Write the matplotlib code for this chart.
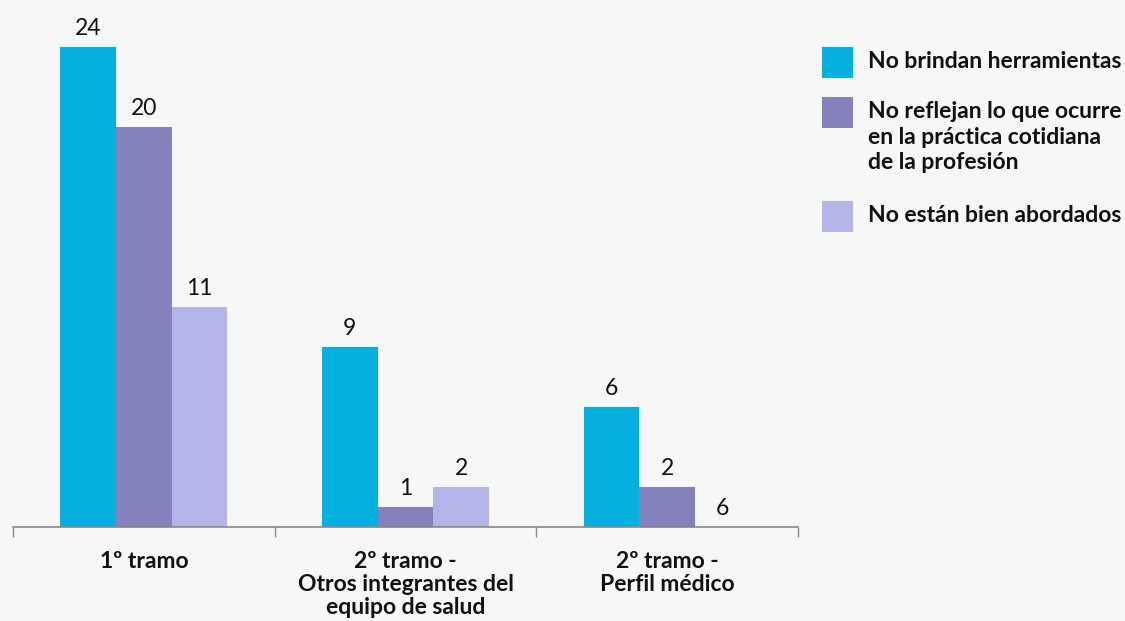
import matplotlib
matplotlib.use("Agg")
import matplotlib.pyplot as plt
from matplotlib.patches import Rectangle
import numpy as np

plt.rcParams['font.family'] = ['Lato', 'DejaVu Sans']

categories = ["1º tramo", "2º tramo -\nOtros integrantes del\nequipo de salud", "2º tramo -\nPerfil médico"]
series_names = ["No brindan herramientas",
                "No reflejan lo que ocurre\nen la práctica cotidiana\nde la profesión",
                "No están bien abordados"]
no_brindan = [24, 9, 6]
no_reflejan = [20, 1, 2]
no_abordados = [11, 2, 0]
label_brindan = ["24", "9", "6"]
label_reflejan = ["20", "1", "2"]
label_abordados = ["11", "2", "6"]

colors = ["#05b0e1", "#8382bc", "#b3b5e8"]
bg = "#f7f7f7"

W, H = 1125, 621
fig = plt.figure(figsize=(W / 100, H / 100), dpi=100, facecolor=bg)

def fx(px):
    return px / W

def fy(py):
    return 1 - py / H

ax = fig.add_axes([fx(13), fy(527), fx(798) - fx(13), 527 / H])
ax.set_facecolor(bg)

x = np.arange(len(categories))
bw = 0.213
data = [no_brindan, no_reflejan, no_abordados]
labels = [label_brindan, label_reflejan, label_abordados]
for i, (vals, labs) in enumerate(zip(data, labels)):
    pos = x + (i - 1) * bw
    ax.bar(pos, vals, width=bw, color=colors[i], edgecolor='none')
    for p, v, l in zip(pos, vals, labs):
        ax.annotate(l, (p, v), xytext=(0, 13.5), textcoords='offset points',
                    ha='center', va='center', fontsize=16.5, color='#111111')

ax.set_xlim(-0.5, 2.5)
ax.set_ylim(0, 26.35)
for s in ['top', 'right', 'left']:
    ax.spines[s].set_visible(False)
ax.spines['bottom'].set_color('#888888')
ax.spines['bottom'].set_linewidth(1.2)
ax.set_yticks([])
ax.set_xticks([-0.5, 0.5, 1.5, 2.5])
ax.set_xticklabels([])
ax.tick_params(axis='x', which='major', direction='out', length=7.5, width=1, color='#888888')
ax.set_xticks(x, minor=True)
ax.set_xticklabels(categories, minor=True, fontsize=16.5, fontweight='bold', color='#111111',
                   linespacing=1.13)
ax.tick_params(axis='x', which='minor', length=0, pad=17)
for t in ax.get_xticklabels(minor=True):
    t.set_va('top')
    t.set_ha('center')

# legend drawn manually
sq = 31
legend_rows = [(47, 62), (97, 137), (201, 216)]
for (top, ty), name, c in zip(legend_rows, series_names, colors):
    fig.patches.append(Rectangle((fx(822), fy(top + sq)), fx(sq), sq / H,
                                 transform=fig.transFigure, facecolor=c, edgecolor='none'))
    fig.text(fx(868), fy(ty), name, ha='left', va='center',
             fontsize=16.5, fontweight='bold', color='#111111', linespacing=1.24)

fig.savefig("out.png", dpi=100, facecolor=bg)
